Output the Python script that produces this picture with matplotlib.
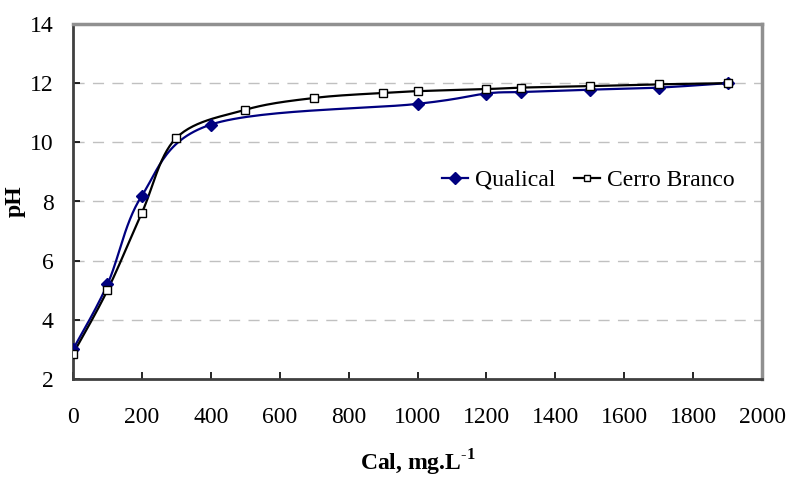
import numpy as np
import matplotlib
matplotlib.use("Agg")
import matplotlib.pyplot as plt

plt.rcParams["font.family"] = ["Liberation Serif", "DejaVu Serif"]
plt.rcParams["mathtext.fontset"] = "custom"
plt.rcParams["mathtext.rm"] = "Liberation Serif"
plt.rcParams["mathtext.bf"] = "Liberation Serif:bold"

# data
qualical_x = [0, 100, 200, 400, 1000, 1200, 1300, 1500, 1700, 1900]
qualical_ph = [3.0, 5.2, 8.2, 10.6, 11.3, 11.65, 11.7, 11.78, 11.85, 12.0]

cerro_x = [0, 100, 200, 300, 500, 700, 900, 1000, 1200, 1300, 1500, 1700, 1900]
cerro_ph = [2.85, 5.0, 7.62, 10.15, 11.1, 11.5, 11.67, 11.73, 11.8, 11.85, 11.9, 11.96, 12.0]

x_ticks = list(range(0, 2001, 200))
y_ticks = list(range(2, 15, 2))


def smooth_line(xs, ys, sx=689 / 2000, sy=29.5, n=30):
    """
    Excel-like smoothed line: Catmull-Rom style bezier through every point,
    computed in (roughly) pixel space so both axes bend the same way.
    """
    p = np.column_stack([np.asarray(xs, float) * sx, np.asarray(ys, float) * sy])
    pts = np.vstack([p[0], p, p[-1]])
    out = []
    t = np.linspace(0, 1, n)[:, None]
    for i in range(1, len(pts) - 2):
        p0, p1, p2, p3 = pts[i - 1], pts[i], pts[i + 1], pts[i + 2]
        c1 = p1 + (p2 - p0) / 6
        c2 = p2 - (p3 - p1) / 6
        seg = ((1 - t) ** 3) * p1 + 3 * ((1 - t) ** 2) * t * c1 + 3 * (1 - t) * t ** 2 * c2 + t ** 3 * p2
        out.append(seg if i == 1 else seg[1:])
    out = np.vstack(out)
    return out[:, 0] / sx, out[:, 1] / sy


fig = plt.figure(figsize=(7.88, 4.83), dpi=100)
ax = fig.add_axes([73 / 788, 1 - 379 / 483, 689 / 788, 355 / 483])

for yv in y_ticks[1:-1]:
    ax.axhline(yv, color="#c0c0c0", lw=1.0, dashes=(8, 6), zorder=0)

qx, qy = smooth_line(qualical_x, qualical_ph)
cx, cy = smooth_line(cerro_x, cerro_ph)

ax.plot(qx, qy, color="#000080", lw=1.6, zorder=2)
ax.plot(qualical_x, qualical_ph, ls="none", marker="D", ms=6, color="#000080", zorder=3)
ax.plot(cx, cy, color="black", lw=1.6, zorder=2)
ax.plot(cerro_x, cerro_ph, ls="none", marker="s", ms=6, mfc="white", mec="black", mew=1.0, zorder=4)

# legend proxies
ax.plot([], [], color="#000080", lw=1.6, marker="D", ms=6, label="Qualical")
ax.plot([], [], color="black", lw=1.6, marker="s", ms=5, mfc="white", mec="black", mew=1.0, label="Cerro Branco")
ax.legend(loc="center left", bbox_to_anchor=(0.535, 0.56), ncol=2, frameon=False, fontsize=17,
          handlelength=1.1, handletextpad=0.3, columnspacing=0.8, borderpad=0, borderaxespad=0)

ax.set_xlim(0, 2000)
ax.set_ylim(2, 14)
ax.set_xticks(x_ticks)
ax.set_yticks(y_ticks)
ax.tick_params(direction="in", length=5, width=1.2, labelsize=17, color="black")
ax.tick_params(axis="x", pad=20)
ax.tick_params(axis="y", pad=14)

for side in ["left", "bottom"]:
    ax.spines[side].set_color("#404040")
    ax.spines[side].set_linewidth(2)
for side in ["top", "right"]:
    ax.spines[side].set_color("#909090")
    ax.spines[side].set_linewidth(2.5)

ax.set_ylabel("pH", fontsize=17, fontweight="bold", va="center")
ax.yaxis.set_label_coords(-0.084, 0.5)
ax.set_xlabel(r"Cal, mg.L$^{\mathbf{\text{-}1}}$", fontsize=17, fontweight="bold", va="center")
ax.xaxis.set_label_coords(0.5, -0.235)

fig.savefig("out.png", dpi=100)
